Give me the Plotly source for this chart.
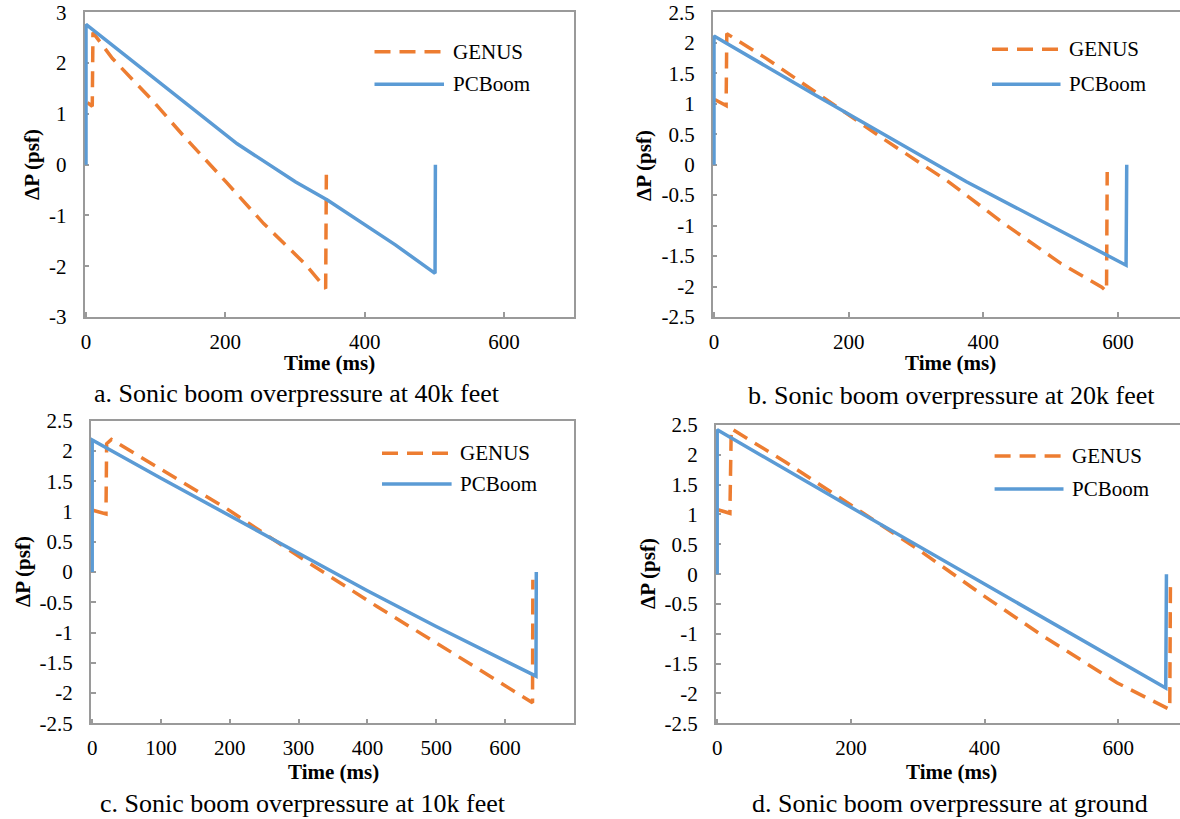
import plotly.graph_objects as go

W, H = 1180, 819

# ---------------- data ----------------
# Panel a: 40k feet
t_genus_a = [2, 9, 10, 38, 95, 141, 201, 255, 314, 344, 345]
p_genus_a = [1.22, 1.15, 2.60, 2.09, 1.27, 0.55, -0.34, -1.16, -1.95, -2.44, -0.20]
t_pcboom_a = [0, 0, 217, 301, 347, 444, 501, 501.5]
p_pcboom_a = [0, 2.76, 0.41, -0.34, -0.70, -1.58, -2.14, 0]

# Panel b: 20k feet
t_genus_b = [1, 18, 19, 78, 151, 252, 347, 431, 515, 576, 583, 584]
p_genus_b = [1.07, 0.97, 2.15, 1.74, 1.19, 0.42, -0.27, -0.97, -1.62, -2.01, -2.08, -0.12]
t_pcboom_b = [0, 0, 151, 375, 612, 613]
p_pcboom_b = [0, 2.11, 1.14, -0.28, -1.65, 0]

# Panel c: 10k feet
t_genus_c = [1, 20, 21, 28, 101, 195, 304, 414, 524, 634, 640, 640.5]
p_genus_c = [1.02, 0.96, 2.12, 2.19, 1.69, 1.05, 0.23, -0.57, -1.34, -2.12, -2.16, -0.13]
t_pcboom_c = [0, 0, 100, 300, 400, 500, 645, 645.5]
p_pcboom_c = [0, 2.18, 1.55, 0.30, -0.31, -0.90, -1.72, 0]

# Panel d: ground
t_genus_d = [1, 19, 21, 102, 204, 305, 401, 485, 598, 668, 677, 678]
p_genus_d = [1.08, 1.02, 2.44, 1.88, 1.13, 0.38, -0.38, -1.02, -1.82, -2.22, -2.27, -0.13]
t_pcboom_d = [0, 0, 200, 364, 671, 672]
p_pcboom_d = [0, 2.42, 1.12, 0.06, -1.91, 0]

series_names = ["GENUS", "PCBoom"]
captions = [
    "a. Sonic boom overpressure at 40k feet",
    "b. Sonic boom overpressure at 20k feet",
    "c. Sonic boom overpressure at 10k feet",
    "d. Sonic boom overpressure at ground",
]
x_title = "Time (ms)"
y_title = "ΔP (psf)"

ytick_vals_a = [-3, -2, -1, 0, 1, 2, 3]
ytick_text_a = ["-3", "-2", "-1", "0", "1", "2", "3"]
ytick_vals_b = [-2.5, -2, -1.5, -1, -0.5, 0, 0.5, 1, 1.5, 2, 2.5]
ytick_text_b = ["-2.5", "-2", "-1.5", "-1", "-0.5", "0", "0.5", "1", "1.5", "2", "2.5"]
xtick_vals_200 = [0, 200, 400, 600]
xtick_vals_100 = [0, 100, 200, 300, 400, 500, 600, 700]

# ---------------- styling ----------------
ORANGE = "#ED7D31"
BLUE = "#5B9BD5"
AXIS = "#9A9A9A"
FONT = "Liberation Serif"
DASH = "16px,9px"
LW = 3.5


def px(x):
    return x / W


def py(y):
    return 1 - y / H


# panel geometry in window pixels: left (t=0), px per ms, right edge, top, bottom
panels = [
    dict(l=86.0, k=0.6967, r=573.5, top=12.3, bot=317.0,
         yr=[-3, 3], yv=ytick_vals_a, yt=ytick_text_a, xv=xtick_vals_200, mirror_y=True,
         tg=t_genus_a, pg=p_genus_a, tp=t_pcboom_a, pp=p_pcboom_a,
         leg=dict(x0=374.5, x1=444, tx=450.5, y1=51.7, y2=84.3),
         xt=(329, 363), yt_pos=(32, 165), cap=(297, 393)),
    dict(l=714.0, k=0.6733, r=1180, top=12.3, bot=317.0,
         yr=[-2.5, 2.5], yv=ytick_vals_b, yt=ytick_text_b, xv=xtick_vals_200, mirror_y=False,
         tg=t_genus_b, pg=p_genus_b, tp=t_pcboom_b, pp=p_pcboom_b,
         leg=dict(x0=992, x1=1060.5, tx=1067, y1=49.3, y2=84.3),
         xt=(950, 363), yt_pos=(644, 165), cap=(951, 395)),
    dict(l=92.2, k=0.688, r=573.5, top=420.7, bot=723.3,
         yr=[-2.5, 2.5], yv=ytick_vals_b, yt=ytick_text_b, xv=xtick_vals_100, mirror_y=True,
         tg=t_genus_c, pg=p_genus_c, tp=t_pcboom_c, pp=p_pcboom_c,
         leg=dict(x0=382, x1=451.6, tx=458, y1=453.3, y2=484),
         xt=(333, 772), yt_pos=(23, 572), cap=(303, 803)),
    dict(l=717.2, k=0.6685, r=1180, top=425.0, bot=723.3,
         yr=[-2.5, 2.5], yv=ytick_vals_b, yt=ytick_text_b, xv=xtick_vals_200, mirror_y=False,
         tg=t_genus_d, pg=p_genus_d, tp=t_pcboom_d, pp=p_pcboom_d,
         leg=dict(x0=994.6, x1=1063.5, tx=1070, y1=456, y2=489),
         xt=(951, 772), yt_pos=(648, 574), cap=(950, 803)),
]

fig = go.Figure()
layout = dict(
    template="none",
    width=W, height=H, margin=dict(l=0, r=0, t=0, b=0, autoexpand=False),
    paper_bgcolor="white", plot_bgcolor="white", showlegend=False,
    font=dict(family=FONT, size=21, color="black"),
)
shapes = []
annotations = []

TMIN = -2.0
for i, p in enumerate(panels):
    n = "" if i == 0 else str(i + 1)
    xa, ya = "x" + n, "y" + n
    fig.add_trace(go.Scatter(x=p["tg"], y=p["pg"], mode="lines", name=series_names[0],
                             line=dict(color=ORANGE, width=LW, dash=DASH),
                             xaxis=xa, yaxis=ya))
    fig.add_trace(go.Scatter(x=p["tp"], y=p["pp"], mode="lines", name=series_names[1],
                             line=dict(color=BLUE, width=LW),
                             xaxis=xa, yaxis=ya))
    left = p["l"] + TMIN * p["k"]
    right = p["r"]
    xmax = (right - p["l"]) / p["k"]
    layout["xaxis" + n] = dict(
        domain=[px(left), min(1.0, px(right))], range=[TMIN, xmax], anchor=ya, automargin=False,
        showgrid=False, zeroline=False, showline=True, linecolor=AXIS, linewidth=1.6,
        mirror=True, ticks="inside", ticklen=5, tickwidth=1.5, tickcolor=AXIS,
        tickvals=p["xv"], ticktext=[str(v) for v in p["xv"]],
        tickfont=dict(family=FONT, size=21, color="black"),
        ticklabelstandoff=5, ticklabeloverflow="allow", layer="below traces",
    )
    layout["yaxis" + n] = dict(
        domain=[py(p["bot"]), py(p["top"])], range=p["yr"], anchor=xa, automargin=False,
        showgrid=False, zeroline=False, showline=True, linecolor=AXIS, linewidth=1.6,
        mirror=p["mirror_y"], ticks="inside", ticklen=5, tickwidth=1.5, tickcolor=AXIS,
        tickvals=p["yv"], ticktext=p["yt"],
        tickfont=dict(family=FONT, size=21, color="black"),
        ticklabelstandoff=12, ticklabeloverflow="allow", layer="below traces",
    )
    # legend (drawn manually to match long sample lines)
    lg = p["leg"]
    shapes.append(dict(type="line", xref="paper", yref="paper",
                       x0=px(lg["x0"]), x1=px(lg["x1"]), y0=py(lg["y1"]), y1=py(lg["y1"]),
                       line=dict(color=ORANGE, width=LW, dash=DASH)))
    shapes.append(dict(type="line", xref="paper", yref="paper",
                       x0=px(lg["x0"]), x1=px(lg["x1"]), y0=py(lg["y2"]), y1=py(lg["y2"]),
                       line=dict(color=BLUE, width=LW)))
    annotations.append(dict(text=series_names[0], x=px(lg["tx"]), y=py(lg["y1"]),
                            xref="paper", yref="paper", xanchor="left", yanchor="middle",
                            showarrow=False, font=dict(family=FONT, size=21, color="black")))
    annotations.append(dict(text=series_names[1], x=px(lg["tx"]), y=py(lg["y2"]),
                            xref="paper", yref="paper", xanchor="left", yanchor="middle",
                            showarrow=False, font=dict(family=FONT, size=21, color="black")))
    # axis titles
    annotations.append(dict(text="<b>" + x_title + "</b>", x=px(p["xt"][0]), y=py(p["xt"][1]),
                            xref="paper", yref="paper", xanchor="center", yanchor="middle",
                            showarrow=False, font=dict(family=FONT, size=21, color="black")))
    annotations.append(dict(text="<b>" + y_title + "</b>", x=px(p["yt_pos"][0]), y=py(p["yt_pos"][1]),
                            xref="paper", yref="paper", xanchor="center", yanchor="middle",
                            textangle=-90, showarrow=False,
                            font=dict(family=FONT, size=21, color="black")))
    # caption
    annotations.append(dict(text=captions[i], x=px(p["cap"][0]), y=py(p["cap"][1]),
                            xref="paper", yref="paper", xanchor="center", yanchor="middle",
                            showarrow=False, font=dict(family=FONT, size=26, color="black")))

layout["shapes"] = shapes
layout["annotations"] = annotations
fig.update_layout(**layout)
fig.write_html("out.html",
               config={"displayModeBar": False},
               post_script="document.body.style.margin='0px';document.body.style.overflow='hidden';")
